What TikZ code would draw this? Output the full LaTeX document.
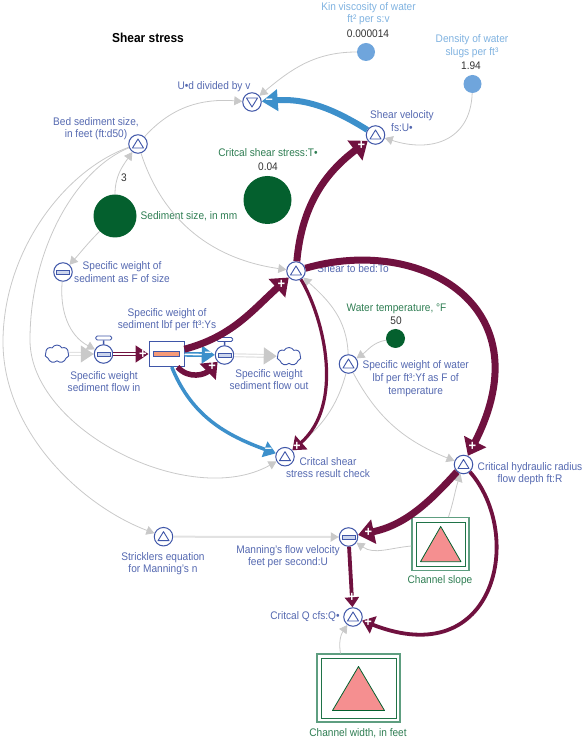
\documentclass[tikz,border=0pt]{standalone}
\usepackage{fontspec}
\setmainfont[FakeStretch=0.92]{Liberation Sans}
\usepackage{xcolor}
\usetikzlibrary{shapes.geometric, shapes.symbols, arrows.meta, positioning, calc}

\definecolor{convblue}{HTML}{3F56A8}
\definecolor{lblblue}{HTML}{5468B0}
\definecolor{paleblue}{HTML}{7FB2E0}
\definecolor{constblue}{HTML}{6FA5DC}
\definecolor{constgreen}{HTML}{04602E}
\definecolor{lblgreen}{HTML}{2E7D52}
\definecolor{linkgrey}{HTML}{C9C9C9}
\definecolor{pipegrey}{HTML}{E2E2E2}
\definecolor{plum}{HTML}{70113F}
\definecolor{linkblue}{HTML}{3D90CB}
\definecolor{boxgreen}{HTML}{5E9E80}
\definecolor{rosefill}{HTML}{F58F90}
\definecolor{barfill}{HTML}{F59A78}
\definecolor{barblue}{HTML}{B7C5E6}

\tikzset{
    basefont/.style={font=\fontsize{11}{12.6}\selectfont},
    lblconv/.style={basefont, text=lblblue, align=center, inner sep=0pt},
    lblgreen/.style={basefont, text=lblgreen, align=center, inner sep=0pt},
    lblpale/.style={basefont, text=paleblue, align=center, inner sep=0pt},
    lblval/.style={basefont, text=black!80, inner sep=0pt},
    conv/.style={circle, draw=convblue, fill=white, line width=1pt, minimum size=18.5pt, inner sep=0pt},
    upconv/.style={conv, path picture={
        \draw[convblue, line width=0.9pt, line join=round]
            ([shift={(0,5)}]path picture bounding box.center) -- ++(5.5,-9) -- ++(-11,0) -- cycle;}},
    downconv/.style={conv, path picture={
        \draw[convblue, line width=0.9pt, line join=round]
            ([shift={(0,-5)}]path picture bounding box.center) -- ++(5.5,9) -- ++(-11,0) -- cycle;}},
    flatconv/.style={conv, path picture={
        \draw[convblue, fill=barblue!70!white, line width=0.9pt]
            ([shift={(-6.5,-2)}]path picture bounding box.center) rectangle ++(13,4);}},
    valvecap/.style={rectangle, rounded corners=1.5pt, draw=convblue, fill=white, line width=0.9pt, minimum width=16pt, minimum height=4pt, inner sep=0pt},
    const/.style={circle, inner sep=0pt},
    stockbox/.style={rectangle, draw=convblue, fill=white, line width=1pt, minimum width=35pt, minimum height=25pt, inner sep=0pt},
    stockbar/.style={rectangle, draw=convblue, fill=barfill, line width=0.6pt, minimum width=26pt, minimum height=5pt, inner sep=0pt},
    cloudy/.style={cloud, cloud puffs=7, cloud puff arc=120, draw=convblue, line width=0.9pt, fill=white, minimum width=24pt, minimum height=18pt, inner sep=0pt},
    gridouter/.style={rectangle, draw=boxgreen, line width=1.1pt, inner sep=0pt},
    gridinner/.style={rectangle, draw=constgreen!70!boxgreen, line width=0.9pt, inner sep=0pt},
    rosetri/.style={draw=constgreen, fill=rosefill, line width=0.8pt, line join=round},
    greylink/.style={draw=linkgrey, line width=0.8pt, -{Triangle[length=8pt, width=9pt, color=linkgrey]}},
    pipe/.style={draw=pipegrey, line width=1.2pt, double=white, double distance=1.6pt, -{Triangle[length=13pt, width=17pt, color=linkgrey]}},
    thinpipe/.style={draw=pipegrey, line width=2pt, -{Triangle[length=8pt, width=9pt, color=linkgrey]}},
    plumfat/.style={draw=plum, line width=7pt, -{Triangle[length=16pt, width=24pt]}},
    plummid/.style={draw=plum, line width=3.8pt, -{Triangle[length=12pt, width=18pt]}},
    bluefat/.style={draw=linkblue, line width=6pt, -{Triangle[length=16pt, width=21pt]}},
    bluemid/.style={draw=linkblue, line width=3.5pt, -{Triangle[length=12pt, width=16pt]}},
    signmark/.style={text=white, font=\fontsize{14}{14}\bfseries\selectfont, inner sep=0pt},
}

\begin{document}
\begin{tikzpicture}[x=1pt, y=1pt]
\useasboundingbox (0,0) rectangle (582,740);

\node[font=\fontsize{13}{15}\bfseries\selectfont, inner sep=0pt] (title) at (148,702) {Shear stress};

% Constants
\node[const, fill=constgreen, minimum size=43pt] (sedSize) at (115,524) {};
\node[const, fill=constgreen, minimum size=48pt] (critStress) at (267.5,540) {};
\node[const, fill=constgreen, minimum size=19pt] (waterTemp) at (395.5,401.5) {};
\node[const, fill=constblue, minimum size=18pt] (kinVisc) at (366,688) {};
\node[const, fill=constblue, minimum size=18pt] (density) at (472.5,656) {};

% Converters
\node[downconv] (udv) at (252,638) {};
\node[upconv] (shearVel) at (375.5,605) {};
\node[upconv] (bedSize) at (138,596) {};
\node[upconv] (toBed) at (296,469) {};
\node[flatconv] (sedF) at (63,468) {};
\node[upconv] (waterF) at (348.5,376) {};
\node[upconv] (hydR) at (463.5,275.5) {};
\node[upconv] (check) at (285,283.3) {};
\node[upconv] (strick) at (163.5,203.3) {};
\node[flatconv] (manning) at (348.5,203) {};
\node[upconv] (critQ) at (353,123) {};

% Stock and flows
\node[stockbox] (stock) at (166.5,386) {};
\node[stockbar] (stockLevel) at (stock) {};
\node[flatconv] (valveIn) at (103.5,386) {};
\node[flatconv] (valveOut) at (224.5,385) {};
\node[valvecap] (capIn) at (103.7,402) {};
\node[valvecap] (capOut) at (224.7,400.5) {};
\draw[convblue, line width=1.6pt] (capIn) -- (valveIn);
\draw[convblue, line width=1.6pt] (capOut) -- (valveOut);
\node[cloudy] (cloudIn) at (57,386) {};
\node[cloudy] (cloudOut) at (289,383.5) {};

% Channel boxes
\node[gridouter, minimum width=57pt, minimum height=53pt] (slope) at (440.5,196) {};
\node[gridinner, minimum width=49pt, minimum height=44pt] (slopeIn) at (slope) {};
\draw[rosetri] (440.7,213.5) -- (461,178.3) -- (420.5,178.3) -- cycle;
\node[gridouter, minimum width=83pt, minimum height=68pt] (width) at (358.5,52) {};
\node[gridinner, minimum width=75pt, minimum height=60pt] (widthIn) at (width) {};
\draw[rosetri] (358.5,73.5) -- (384.5,29.5) -- (332.5,29.5) -- cycle;

% Labels
\node[lblconv] (lbUdv) at (214,653) {U•d divided by v};
\node[lblconv] (lbBed) at (96,611.5) {Bed sediment size,\\in feet (ft:d50)};
\node[lblval] (valSed) at (124,562) {3};
\node[lblgreen] (lbSed) at (189,524) {Sediment size, in mm};
\node[lblgreen] (lbCrit) at (268,587) {Critcal shear stress:T•};
\node[lblval] (valCrit) at (268,573) {0.04};
\node[lblpale] (lbKin) at (368.5,726.5) {Kin viscosity of water\\ft² per s:v};
\node[lblval] (valKin) at (368,706) {0.000014};
\node[lblpale] (lbDens) at (472,694) {Density of water\\slugs per ft³};
\node[lblval] (valDens) at (471,674) {1.94};
\node[lblconv] (lbShearVel) at (402,619) {Shear velocity\\fs:U•};
\node[lblconv] (lbSedF) at (122,468) {Specific weight of\\sediment as F of size};
\node[lblconv] (lbStock) at (167,420.5) {Specific weight of\\sediment lbf per ft³:Ys};
\node[lblconv] (lbIn) at (104,358.5) {Specific weight\\sediment flow in};
\node[lblconv] (lbOut) at (269,360.5) {Specific weight\\sediment flow out};
\node[lblconv] (lbTo) at (353,471) {Shear to bed:To};
\node[lblgreen] (lbTemp) at (396.5,431) {Water temperature, °F};
\node[lblval] (valTemp) at (396,419) {50};
\node[lblconv] (lbWater) at (415.7,361.3) {Specific weight of water\\lbf per ft³:Yf as F of\\temperature};
\node[lblconv] (lbHyd) at (530,266.5) {Critical hydraulic radius\\flow depth ft:R};
\node[lblconv] (lbCheck) at (328,272.5) {Critcal shear\\stress result check};
\node[lblconv] (lbStrick) at (163,176.5) {Stricklers equation\\for Manning’s n};
\node[lblconv] (lbManning) at (288,183.5) {Manning’s flow velocity\\feet per second:U};
\node[lblgreen] (lbSlope) at (440,159) {Channel slope};
\node[lblconv] (lbQ) at (305,123) {Critcal Q cfs:Q•};
\node[lblgreen] (lbWidth) at (358,7) {Channel width, in feet};

% Thin links
\draw[greylink] (kinVisc) to[out=180, in=40] (udv);
\draw[greylink] (density) to[out=-92, in=-18, looseness=1.25] (shearVel);
\draw[greylink] (bedSize) to[out=48, in=176] (udv);
\draw[greylink] (sedSize) to[out=90, in=-125] (bedSize);
\draw[greylink] (bedSize) to[out=-72, in=172] (toBed);
\draw[greylink] (sedSize) to[out=225, in=48] (sedF);
\draw[greylink] (sedF) to[out=-95, in=152] (valveIn);
\draw[greylink] (bedSize) .. controls (75,570) and (30,490) .. (30,400) .. controls (30,310) and (190,230) .. (check);
\draw[greylink] (bedSize) .. controls (65,570) and (4,490) .. (3,400) .. controls (2,310) and (80,235) .. (strick);
\draw[greylink] (waterTemp) to[out=190, in=35] (waterF);
\draw[greylink] (waterF) to[out=92, in=-42] (toBed);
\draw[greylink] (waterF) to[out=-105, in=40] (check);
\draw[greylink] (waterF) to[out=-62, in=158] (hydR);
\draw[greylink] (slope.north) ++(8,0) coordinate (slopeTop) (slopeTop) to[out=72, in=-108] (hydR);
\draw[greylink] (slope.west) ++(0,-2) coordinate (slopeLeft) (slopeLeft) to[out=185, in=-35] (manning);
\draw[greylink] (width.north) ++(-18,0) coordinate (widthTop) (widthTop) to[out=100, in=-125] (critQ);
\draw[thinpipe] (strick) -- (manning);

% Pipes
\draw[pipe] (cloudIn) -- (valveIn);
\draw[pipe] (valveOut) -- (cloudOut);
\draw[draw=plum, line width=1.6pt, double=white, double distance=1.6pt, -{Triangle[length=13pt, width=17pt]}] (valveIn) -- node[signmark, pos=0.84] (plusIn) {+} (stock);
\draw[draw=linkblue, line width=1.6pt, double=white, double distance=1.6pt, -{Triangle[length=13pt, width=18pt]}] (stock) -- node[signmark, pos=0.78] (minusOut) {–} (valveOut);

% Thick links
\draw[plumfat] (toBed) to[out=85, in=217] node[signmark, pos=0.95] (plusVel) {+} (shearVel);
\draw[plumfat] (stock) to[out=15, in=222] node[signmark, pos=0.93] (plusTo) {+} (toBed);
\draw[plumfat, line width=5.5pt, -{Triangle[length=14pt, width=22pt]}] ([xshift=-7pt]stock.south east) to[out=-48, in=225, looseness=1.1] node[signmark, pos=0.86] (plusFlow) {+} (valveOut);
\draw[plumfat] (toBed) .. controls (420,505) and (545,435) .. node[signmark, pos=0.98] (plusHyd) {+} (hydR);
\draw[plummid, line width=3.2pt] (toBed) .. controls (325,420) and (344,335) .. node[signmark, pos=0.97] (plusCheck) {+} (check);
\draw[plumfat] (hydR) to[out=-132, in=12] node[signmark, pos=0.92] (plusMan) {+} (manning);
\draw[plummid, -{Triangle[length=10pt, width=14pt]}] (manning) -- node[signmark, pos=0.83] (plusQ) {+} (critQ);
\draw[plummid] (hydR) .. controls (525,205) and (496,67) .. node[signmark, pos=0.985] (plusCritQ) {+} (critQ);
\draw[bluefat] (shearVel) to[out=148, in=4] node[signmark, pos=0.94] (minusUd) {–} (udv);
\draw[bluemid] (stock) to[out=-68, in=160] node[signmark, pos=0.95] (minusCheck) {–} (check);

\end{tikzpicture}
\end{document}
